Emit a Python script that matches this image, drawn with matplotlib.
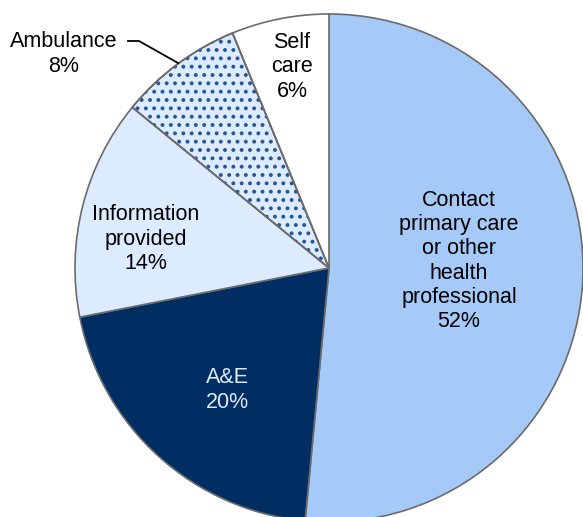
import matplotlib
matplotlib.use("Agg")
from matplotlib import pyplot as plt
from matplotlib.patches import Wedge

labels = ["Contact\nprimary care\nor other\nhealth\nprofessional", "A&E", "Information\nprovided", "Ambulance", "Self\ncare"]
shares = [51.5, 20.4, 14.0, 7.9, 6.2]
pct_labels = ["52%", "20%", "14%", "8%", "6%"]
colors = ["#A6CAF8", "#002D62", "#DCEBFF", "#DCEBFF", "#FFFFFF"]
text_colors = ["#000000", "#DCEBFF", "#000000", "#000000", "#000000"]
# label centres in image pixels (x, y from top)
label_pos = [(459, 261), (227, 390), (146, 239), (64, 54), (292, 67)]

plt.rcParams["hatch.linewidth"] = 1.6

W, H = 583, 517
fig = plt.figure(figsize=(W / 100, H / 100), dpi=100)
ax = fig.add_axes([0, 0, 1, 1])

cx, cy, r = 329, H - 268, 254
wedges, _ = ax.pie(shares, colors=colors, startangle=90, counterclock=False,
                   center=(cx, cy), radius=r, frame=True,
                   wedgeprops=dict(edgecolor="#6B6B6B", linewidth=1.2))
ax.set_xlim(0, W)
ax.set_ylim(0, H)
ax.set_aspect("equal")
ax.axis("off")

# dotted pattern on the ambulance slice
amb = wedges[3]
ax.add_patch(Wedge((cx, cy), r, amb.theta1, amb.theta2, facecolor="none",
                   edgecolor="#2A5596", hatch="..", linewidth=0))
ax.add_patch(Wedge((cx, cy), r, amb.theta1, amb.theta2, facecolor="none",
                   edgecolor="#6B6B6B", linewidth=1.2))

for lab, p, (x, y), tc in zip(labels, pct_labels, label_pos, text_colors):
    ax.text(x, H - y, f"{lab}\n{p}", ha="center", va="center", color=tc,
            fontsize=15.5, family="Liberation Sans", linespacing=1.2)

# leader line for Ambulance
ax.plot([128, 139, 178], [H - 41, H - 41, H - 63], color="black", linewidth=1.3)

fig.savefig("out.png", dpi=100)
